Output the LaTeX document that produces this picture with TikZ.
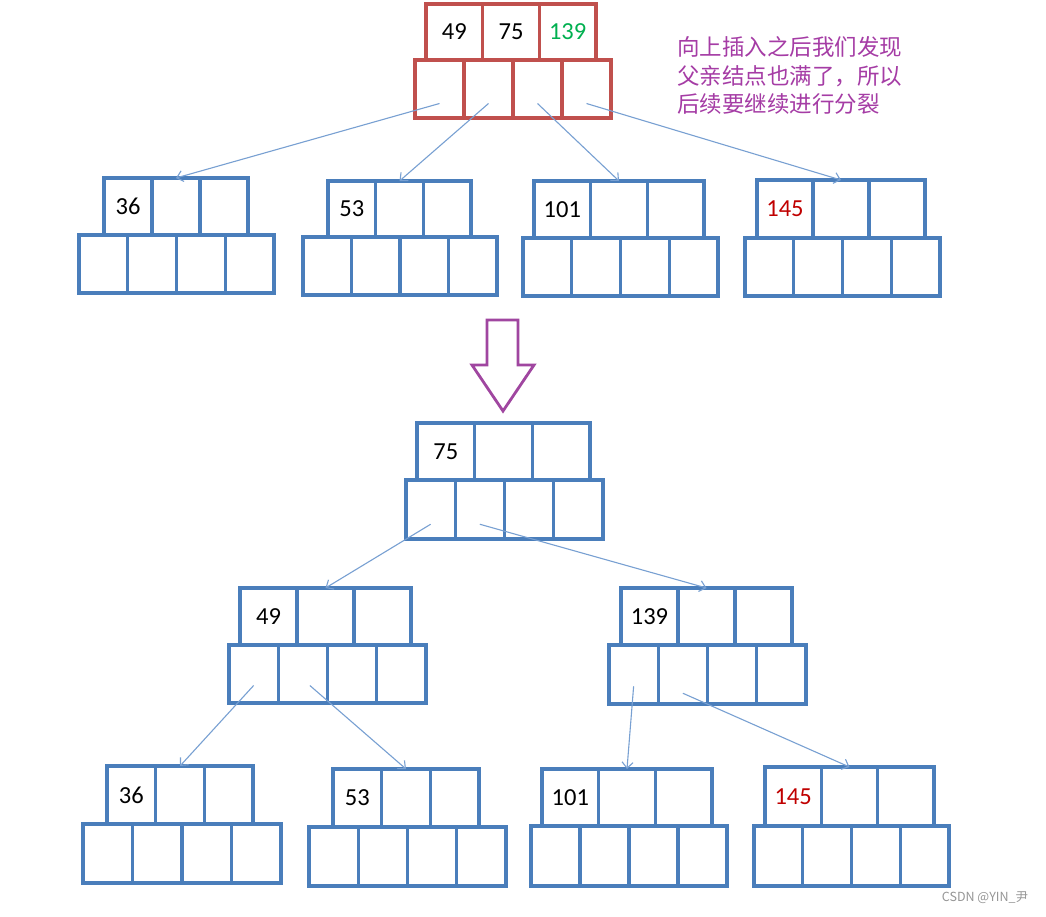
\documentclass[tikz,border=0pt]{standalone}
\usepackage{fontspec}
\newfontfamily\keyfont{Carlito}
\newfontfamily\cjkfont{Noto Sans CJK SC}
\usetikzlibrary{arrows.meta}
\definecolor{boxblue}{RGB}{74,126,187}
\definecolor{boxred}{RGB}{192,80,77}
\definecolor{linkblue}{RGB}{120,160,210}
\definecolor{notepurple}{RGB}{165,60,165}
\definecolor{arrowpurple}{RGB}{160,70,160}
\definecolor{keygreen}{RGB}{0,176,80}
\definecolor{keyred}{RGB}{192,0,0}
\definecolor{wmgray}{RGB}{150,150,150}
\tikzset{
  boxline/.style={line width=3.2pt},
  link/.style={draw=linkblue, line width=1.1pt, -{Straight Barb[length=6pt,width=11pt]}},
  keytext/.style={font=\keyfont\fontsize{24.5}{27}\selectfont, inner sep=0pt},
  notetext/.style={font=\cjkfont\fontsize{22.5}{28}\selectfont, text=notepurple, inner sep=0pt, anchor=west},
  bigarrow/.style={draw=arrowpurple, line width=2.8pt, fill=white, line join=miter}
}
% #1 name, #2 key left, #3 key right, #4 top, #5 middle, #6 bottom-row left, #7 bottom-row right, #8 bottom, #9 colour
\newcommand\btnode[9]{%
  \pgfmathsetmacro\mykw{(#3-#2)/3}%
  \pgfmathsetmacro\mybw{(#7-#6)/4}%
  \draw[boxline,draw=#9] (#2,#4) rectangle (#3,#5);
  \foreach \i in {1,2} \draw[boxline,draw=#9] ({#2+\i*\mykw},#4) -- ({#2+\i*\mykw},#5);
  \draw[boxline,draw=#9] (#6,#5) rectangle (#7,#8);
  \foreach \i in {1,2,3} \draw[boxline,draw=#9] ({#6+\i*\mybw},#5) -- ({#6+\i*\mybw},#8);
  \foreach \i in {1,2,3} \coordinate (#1-k\i) at ({#2+(\i-0.5)*\mykw},{(#4+#5)/2});
  \foreach \i in {1,2,3,4} \coordinate (#1-c\i) at ({#6+(\i-0.5)*\mybw},{#5+0.75*(#8-#5)});
  \coordinate (#1-in) at ({#2+1.5*\mykw},#4);
}
\begin{document}
\begin{tikzpicture}[x=1pt,y=-1pt]
\fill[white] (0,0) rectangle (1046,916);
\useasboundingbox (0,0) rectangle (1046,916);

% ---- upper picture ----
\btnode{top}{426}{596}{4}{60}{415}{611}{118}{boxred}
\node[keytext] (t49) at (top-k1) {49};
\node[keytext] (t75) at (top-k2) {75};
\node[keytext, text=keygreen] (t139) at (top-k3) {139};

\btnode{ua}{104}{248}{178}{235}{79}{274}{293}{boxblue}
\node[keytext] (ua36) at (ua-k1) {36};
\btnode{ub}{328}{471}{181}{237}{303}{497}{295}{boxblue}
\node[keytext] (ub53) at (ub-k1) {53};
\btnode{uc}{534}{704}{181}{238}{523}{718}{296}{boxblue}
\node[keytext] (uc101) at (uc-k1) {101};
\btnode{ud}{757}{925}{180}{238}{745}{940}{296}{boxblue}
\node[keytext, text=keyred] (ud145) at (ud-k1) {145};

\draw[link] (top-c1) -- (ua-in);
\draw[link] (top-c2) -- (ub-in);
\draw[link] (top-c3) -- (uc-in);
\draw[link] (top-c4) -- (ud-in);

\node[notetext] (note1) at (677,47) {向上插入之后我们发现};
\node[notetext] (note2) at (677,76) {父亲结点也满了，所以};
\node[notetext] (note3) at (677,104) {后续要继续进行分裂};

% ---- big arrow ----
\draw[bigarrow] (487,320) -- (518,320) -- (518,365) -- (534,365) -- (503,411) -- (472,365) -- (487,365) -- cycle;

% ---- lower picture ----
\btnode{m}{417}{590}{423}{480}{406}{603}{539}{boxblue}
\node[keytext] (m75) at (m-k1) {75};
\btnode{l}{240}{411}{588}{645}{229}{426}{703}{boxblue}
\node[keytext] (l49) at (l-k1) {49};
\btnode{r}{621}{792}{588}{645}{609}{806}{704}{boxblue}
\node[keytext] (r139) at (r-k1) {139};

\btnode{ba}{107}{253}{766}{824}{83}{281}{883}{boxblue}
\node[keytext] (ba36) at (ba-k1) {36};
\btnode{bb}{333}{479}{769}{827}{309}{506}{886}{boxblue}
\node[keytext] (bb53) at (bb-k1) {53};
\btnode{bc}{542}{712}{769}{826}{531}{727}{886}{boxblue}
\node[keytext] (bc101) at (bc-k1) {101};
\btnode{bd}{765}{934}{767}{826}{754}{949}{886}{boxblue}
\node[keytext, text=keyred] (bd145) at (bd-k1) {145};

\draw[link] (m-c1) -- (l-in);
\draw[link] (m-c2) -- (r-in);
\draw[link] ([yshift=3pt]l-c1) -- (ba-in);
\draw[link] ([xshift=7pt,yshift=3pt]l-c2) -- (bb-in);
\draw[link] ([yshift=3pt]r-c1) -- (bc-in);
\draw[link] ([yshift=-4pt]r-c2) -- (bd-in);

\node[font=\cjkfont\fontsize{12.5}{14}\selectfont, text=wmgray, inner sep=0pt] (wm) at (985,898) {CSDN @YIN\_尹};
\end{tikzpicture}
\end{document}
